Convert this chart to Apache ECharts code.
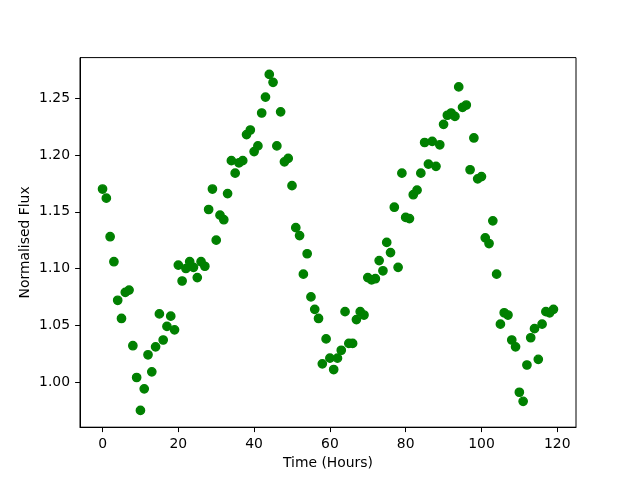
<!DOCTYPE html>
<html>
<head>
<meta charset="utf-8">
<title>Normalised Flux</title>
<script src="https://cdn.jsdelivr.net/npm/echarts@6/dist/echarts.min.js"></script>
<style>
    html, body { margin: 0; padding: 0; background: #ffffff; }
    #chart { width: 640px; height: 480px; }
</style>
</head>
<body>
<div id="chart"></div>
<script>
// Flux readings, one per hour
const hours = [];
for (let h = 0; h < 120; h++) hours.push(h);

const flux = [
    1.170, 1.162, 1.128, 1.106, 1.072, 1.056, 1.079, 1.081, 1.032, 1.004,
    0.975, 0.994, 1.024, 1.009, 1.031, 1.060, 1.037, 1.049, 1.058, 1.046,
    1.103, 1.089, 1.100, 1.106, 1.101, 1.092, 1.106, 1.102, 1.152, 1.170,
    1.125, 1.147, 1.143, 1.166, 1.195, 1.184, 1.193, 1.195, 1.218, 1.222,
    1.203, 1.208, 1.237, 1.251, 1.271, 1.264, 1.208, 1.238, 1.194, 1.197,
    1.173, 1.136, 1.129, 1.095, 1.113, 1.075, 1.064, 1.056, 1.016, 1.038,
    1.021, 1.011, 1.021, 1.028, 1.062, 1.034, 1.034, 1.055, 1.062, 1.059,
    1.092, 1.090, 1.091, 1.107, 1.098, 1.123, 1.114, 1.154, 1.101, 1.184,
    1.145, 1.144, 1.165, 1.169, 1.184, 1.211, 1.192, 1.212, 1.190, 1.209,
    1.227, 1.235, 1.237, 1.234, 1.260, 1.242, 1.244, 1.187, 1.215, 1.179,
    1.181, 1.127, 1.122, 1.142, 1.095, 1.051, 1.061, 1.059, 1.037, 1.031,
    0.991, 0.983, 1.015, 1.039, 1.047, 1.020, 1.051, 1.062, 1.061, 1.064
];

const xTicks = [0, 20, 40, 60, 80, 100, 120];
const yTicks = [1.00, 1.05, 1.10, 1.15, 1.20, 1.25];

// matplotlib style 5% margins around the data
function padded(arr) {
    const lo = Math.min.apply(null, arr);
    const hi = Math.max.apply(null, arr);
    const pad = (hi - lo) * 0.05;
    return [lo - pad, hi + pad];
}

const xRange = padded(hours);
const yRange = padded(flux);
const points = hours.map((h, i) => [h, flux[i]]);

const font = 'DejaVu Sans';
const chart = echarts.init(document.getElementById('chart'), null, { renderer: 'canvas' });

chart.setOption({
    backgroundColor: '#ffffff',
    animation: false,
    grid: {
        left: 80,
        right: 64,
        top: 57.6,
        bottom: 52.8,
        show: true,
        borderColor: '#000000',
        borderWidth: 1,
        backgroundColor: 'transparent'
    },
    xAxis: {
        type: 'value',
        min: xRange[0],
        max: xRange[1],
        name: 'Time (Hours)',
        nameLocation: 'middle',
        nameGap: 29,
        nameMoveOverlap: false,
        nameTextStyle: { color: '#000000', fontFamily: font, fontSize: 13.9 },
        axisLine: { show: true, onZero: false, lineStyle: { color: '#000000', width: 1 } },
        axisTick: {
            show: true,
            length: 4.9,
            customValues: xTicks,
            lineStyle: { color: '#000000', width: 1 }
        },
        axisLabel: {
            customValues: xTicks,
            margin: 10,
            color: '#000000',
            fontFamily: font,
            fontSize: 13.9,
            formatter: v => String(Math.round(v))
        },
        splitLine: { show: false }
    },
    yAxis: {
        type: 'value',
        min: yRange[0],
        max: yRange[1],
        name: 'Normalised Flux',
        nameLocation: 'middle',
        nameGap: 48,
        nameMoveOverlap: false,
        nameTextStyle: { color: '#000000', fontFamily: font, fontSize: 13.9 },
        axisLine: { show: true, onZero: false, lineStyle: { color: '#000000', width: 1 } },
        axisTick: {
            show: true,
            length: 4.9,
            customValues: yTicks,
            lineStyle: { color: '#000000', width: 1 }
        },
        axisLabel: {
            customValues: yTicks,
            margin: 10,
            color: '#000000',
            fontFamily: font,
            fontSize: 13.9,
            formatter: v => v.toFixed(2)
        },
        splitLine: { show: false }
    },
    series: [{
        type: 'scatter',
        data: points,
        symbol: 'circle',
        symbolSize: 8.3,
        itemStyle: { color: '#008000', borderColor: '#008000', borderWidth: 1.4, opacity: 1 }
    }]
});
</script>
</body>
</html>
